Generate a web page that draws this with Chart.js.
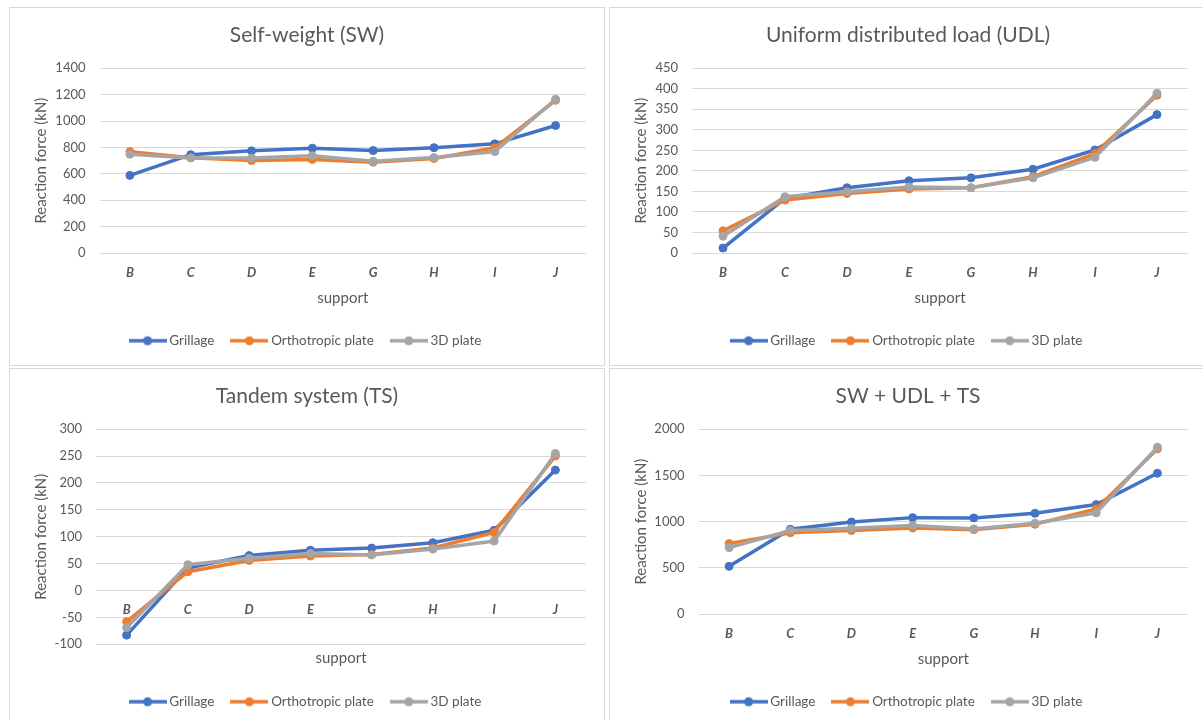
<!DOCTYPE html>
<html>
<head>
<meta charset="utf-8">
<script src="https://cdn.jsdelivr.net/npm/chart.js@4.4.1/dist/chart.umd.min.js"></script>
<style>
  html, body { margin: 0; padding: 0; background: #fff; width: 1203px; height: 720px; overflow: hidden; }
  .panel { position: absolute; box-sizing: border-box; border: 1px solid #d9d9d9; background: #fff; }
  .panel canvas { display: block; }
</style>
</head>
<body>
<div class="panel" style="left:9px;top:7px;width:596px;height:359px"><canvas id="chartSW" width="594" height="357"></canvas></div>
<div class="panel" style="left:609px;top:7px;width:598px;height:359px"><canvas id="chartUDL" width="596" height="357"></canvas></div>
<div class="panel" style="left:9px;top:368px;width:596px;height:359px"><canvas id="chartTS" width="594" height="357"></canvas></div>
<div class="panel" style="left:609px;top:368px;width:598px;height:359px"><canvas id="chartSUM" width="596" height="357"></canvas></div>

<script>
// Supports along the bridge
const supports = ['B', 'C', 'D', 'E', 'G', 'H', 'I', 'J'];
const seriesNames = ['Grillage', 'Orthotropic plate', '3D plate'];
const seriesColors = ['#4472C4', '#ED7D31', '#A5A5A5'];

// Self-weight reactions (kN)
const swGrillage = [588, 745, 774, 794, 776, 798, 827, 966];
const swOrtho    = [768, 722, 700, 709, 688, 716, 797, 1157];
const sw3D       = [748, 720, 719, 737, 696, 723, 768, 1164];

// Uniform distributed load reactions (kN)
const udlGrillage = [12, 133, 159, 176, 183, 204, 251, 337];
const udlOrtho    = [54, 129, 145, 156, 159, 186, 242, 384];
const udl3D       = [41, 137, 149, 161, 159, 183, 233, 389];

// Tandem system reactions (kN)
const tsGrillage = [-83, 42, 65, 75, 79, 89, 112, 224];
const tsOrtho    = [-58, 35, 56, 64, 67, 79, 108, 250];
const ts3D       = [-69, 48, 60, 69, 66, 77, 92, 255];

// Combined SW + UDL + TS reactions (kN)
const sumGrillage = [516, 917, 996, 1043, 1040, 1090, 1184, 1523];
const sumOrtho    = [762, 878, 903, 931, 913, 971, 1137, 1787];
const sum3D       = [718, 903, 928, 957, 921, 982, 1094, 1805];

// Value axis ranges: [min, max, step]
const swAxis  = [0, 1400, 200];
const udlAxis = [0, 450, 50];
const tsAxis  = [-100, 300, 50];
const sumAxis = [0, 2000, 500];

const FONT = 'Lato, "Open Sans", sans-serif';
const TEXT = '#595959';
const GRID = '#d9d9d9';

// Legend swatch: a short line with a round marker in the middle
function swatch(color) {
  const c = document.createElement('canvas');
  c.width = 38; c.height = 12;
  const g = c.getContext('2d');
  g.strokeStyle = color; g.lineWidth = 3.5;
  g.beginPath(); g.moveTo(0, 6); g.lineTo(38, 6); g.stroke();
  g.fillStyle = color;
  g.beginPath(); g.arc(19, 6, 4.5, 0, Math.PI * 2); g.fill();
  return c;
}
const swatches = seriesColors.map(swatch);

function makeChart(id, title, series, axis, yWidth, zeroAxis) {
  const datasets = series.map((values, i) => ({
    label: seriesNames[i],
    data: values,
    borderColor: seriesColors[i],
    backgroundColor: seriesColors[i],
    borderWidth: 3.5,
    pointRadius: 4,
    pointBorderWidth: 1,
    pointBackgroundColor: seriesColors[i],
    pointBorderColor: seriesColors[i],
    tension: 0,
    order: series.length - 1 - i
  }));

  const xTitle = { display: true, text: 'support', color: TEXT,
                   font: { family: FONT, size: 15 }, padding: { top: 0, bottom: zeroAxis ? 7.7 : 7.3 } };

  const scales = {
    y: {
      min: axis[0], max: axis[1],
      ticks: { stepSize: axis[2], color: TEXT, padding: 14,
               font: { family: FONT, size: 13 }, callback: v => String(v) },
      grid: { color: GRID, lineWidth: 1, drawTicks: false },
      border: { display: false },
      title: { display: true, text: 'Reaction force (kN)', color: TEXT,
               font: { family: FONT, size: 15 }, padding: { top: 22, bottom: 0 } },
      afterFit: s => { s.width = yWidth; }
    },
    // empty margin on the right of the plot
    yRight: {
      position: 'right',
      display: true,
      ticks: { display: false },
      grid: { display: false, drawTicks: false },
      border: { display: false },
      afterFit: s => { s.width = 18; }
    },
    x: {
      type: 'category',
      offset: true,
      position: zeroAxis ? { y: 0 } : 'bottom',
      ticks: { color: TEXT, padding: zeroAxis ? 11.5 : 12, maxRotation: 0,
               font: { family: FONT, size: 13, style: 'italic', weight: 'bold' } },
      grid: { display: false, drawTicks: false },
      border: { display: false },
      title: zeroAxis ? { display: false } : xTitle,
      afterFit: s => { s.height = zeroAxis ? 0 : 61; }
    }
  };
  if (zeroAxis) {
    // Category labels sit on the zero line; the axis title stays under the plot
    scales.x2 = {
      type: 'category',
      offset: true,
      position: 'bottom',
      ticks: { display: false },
      grid: { display: false, drawTicks: false },
      border: { display: false },
      title: xTitle,
      afterFit: s => { s.height = 30.7; }
    };
  }

  return new Chart(document.getElementById(id), {
    type: 'line',
    data: { labels: supports, datasets },
    options: {
      responsive: false,
      animation: false,
      devicePixelRatio: 1,
      layout: { padding: { left: 0, right: 0, top: 0, bottom: 7.5 } },
      scales,
      plugins: {
        title: { display: true, text: title, color: TEXT,
                 font: { family: FONT, size: 21, weight: 'normal' },
                 padding: { top: 14.5, bottom: 20.5 } },
        legend: {
          position: 'bottom',
          labels: {
            usePointStyle: true,
            pointStyleWidth: 30,
            boxHeight: 12,
            padding: 20,
            color: TEXT,
            font: { family: FONT, size: 13.5 },
            generateLabels: chart => {
              const items = Chart.defaults.plugins.legend.labels.generateLabels(chart);
              items.sort((a, b) => a.datasetIndex - b.datasetIndex);
              items.forEach(it => { it.pointStyle = swatches[it.datasetIndex]; });
              return items;
            }
          }
        },
        tooltip: { enabled: false }
      }
    }
  });
}

makeChart('chartSW',  'Self-weight (SW)',               [swGrillage, swOrtho, sw3D],    swAxis,  89.5, false);
makeChart('chartUDL', 'Uniform distributed load (UDL)', [udlGrillage, udlOrtho, udl3D], udlAxis, 82,   false);
makeChart('chartTS',  'Tandem system (TS)',             [tsGrillage, tsOrtho, ts3D],    tsAxis,  86,   true);
makeChart('chartSUM', 'SW + UDL + TS',                  [sumGrillage, sumOrtho, sum3D], sumAxis, 88.5, false);
</script>
</body>
</html>
